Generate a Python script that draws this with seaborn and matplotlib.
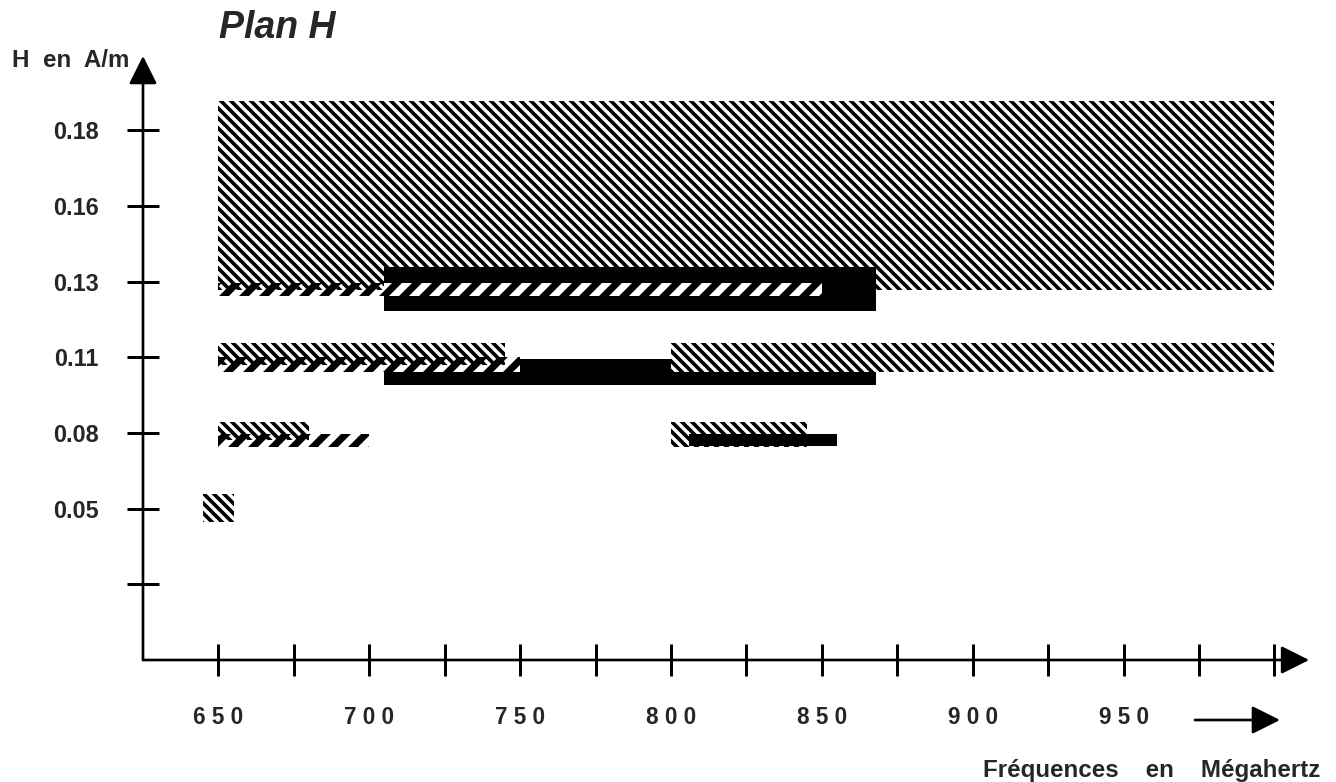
"""Plan H: field strength bands versus frequency (hatched range chart)."""
import matplotlib
matplotlib.use("Agg")
import matplotlib.pyplot as plt
import seaborn as sns

# axis slots: the vertical axis is drawn with evenly spaced ticks, labelled with H values
y_slots = [1, 2, 3, 4, 5, 6, 7]
y_labels = ["", "0.05", "0.08", "0.11", "0.13", "0.16", "0.18"]

freq_ticks = [650, 675, 700, 725, 750, 775, 800, 825, 850, 875, 900, 925, 950, 975, 1000]
freq_labels = ["6 5 0", "", "7 0 0", "", "7 5 0", "", "8 0 0", "", "8 5 0", "", "9 0 0", "", "9 5 0", "", ""]

# bands (MHz from/to, bottom/top in axis slots), in drawing order
band_start = [650, 705, 650, 705, 650, 650, 705, 750, 800, 650, 650, 800, 806, 645]
band_end = [1000, 868, 705, 850, 745, 750, 868, 800, 1000, 680, 700, 845, 855, 655]
band_low = [4.89, 4.61, 4.81, 4.81, 3.90, 3.80, 3.63, 3.63, 3.80, 2.91, 2.81, 2.81, 2.83, 1.82]
band_high = [7.39, 5.19, 4.98, 4.98, 4.19, 4.00, 3.80, 3.98, 4.19, 3.14, 2.99, 3.14, 2.99, 2.19]
band_kind = ["back", "solid", "fwd", "fwd_on_black", "back", "fwd", "solid", "solid",
             "back", "back", "fwd", "back", "solid", "back"]

STYLES = {
    "back": dict(hatch="\\\\\\\\", facecolor="none", hatch_lw=2.2),
    "fwd": dict(hatch="//", facecolor="none", hatch_lw=4.2),
    "fwd_on_black": dict(hatch="//", facecolor="white", hatch_lw=4.2),
    "solid": dict(hatch=None, facecolor="black", hatch_lw=1.0),
}

DPI = 120
W, H = 1336, 782

sns.set_theme(style="white")
plt.rcParams["font.family"] = ["Liberation Sans", "DejaVu Sans"]

fig = plt.figure(figsize=(W / DPI, H / DPI), dpi=DPI)
ax = fig.add_axes([143 / W, 122 / H, 1176.7 / W, 620.7 / H])
ax.set_xlim(625, 1015)
ax.set_ylim(0, 8.2)
ax.patch.set_alpha(0)

for x0, x1, y0, y1, kind in zip(band_start, band_end, band_low, band_high, band_kind):
    st = STYLES[kind]
    bars = ax.bar(x0, y1 - y0, width=x1 - x0, bottom=y0, align="edge",
                  facecolor=st["facecolor"], edgecolor="black", linewidth=0,
                  hatch=st["hatch"])
    for b in bars:
        if hasattr(b, "set_hatch_linewidth"):
            b.set_hatch_linewidth(st["hatch_lw"])

sns.despine(ax=ax, left=True, bottom=True, top=True, right=True)

# axes drawn as arrows
arrow = dict(arrowstyle="-|>", lw=1.6, color="black", mutation_scale=36,
             shrinkA=0, shrinkB=0)
ax.annotate("", xy=(625, 7.98), xytext=(625, 0), arrowprops=arrow, annotation_clip=False)
ax.annotate("", xy=(1011.5, 0), xytext=(625, 0), arrowprops=arrow, annotation_clip=False)

ax.set_xticks(freq_ticks)
ax.set_xticklabels(freq_labels, fontweight="bold", fontsize=13.5)
ax.set_yticks(y_slots)
ax.set_yticklabels(y_labels, fontweight="bold", fontsize=14)
ax.tick_params(axis="both", direction="inout", length=19, width=1.8, color="black",
               bottom=True, left=True)
ax.tick_params(axis="x", pad=18)
ax.tick_params(axis="y", pad=17)
ax.grid(False)

fig.text(219 / W, 1 - 38 / H, "Plan H", fontsize=22.5, fontweight="bold", style="italic",
         ha="left", va="baseline")
fig.text(12 / W, 1 - 67 / H, "H  en  A/m", fontsize=14.5, fontweight="bold",
         ha="left", va="baseline")
fig.text(1320 / W, 1 - 777 / H, "Fréquences    en    Mégahertz", fontsize=14.5,
         fontweight="bold", ha="right", va="baseline")
ax.annotate("", xy=(1280, H - 720), xytext=(1195, H - 720), xycoords="figure pixels",
            arrowprops=dict(arrowstyle="-|>", lw=1.6, color="black", mutation_scale=36,
                            shrinkA=0, shrinkB=0), annotation_clip=False)

fig.savefig("out.png", dpi=DPI)
